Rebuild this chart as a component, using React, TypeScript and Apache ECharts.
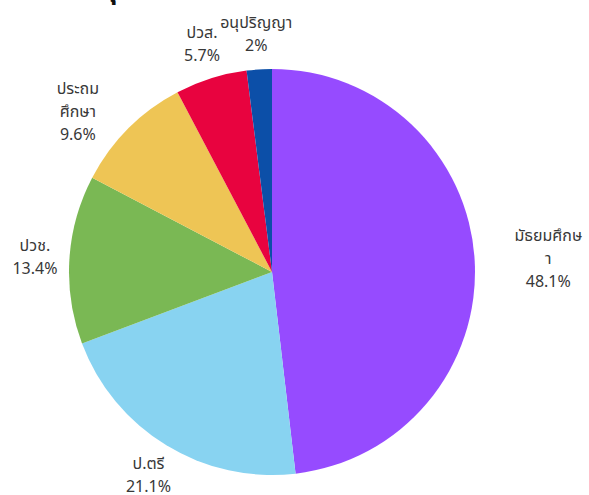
import React, { useEffect, useRef } from "react";
import * as echarts from "echarts";

const categories = ["มัธยมศึกษา", "ป.ตรี", "ปวช.", "ประถมศึกษา", "ปวส.", "อนุปริญญา"];
const values = [48.1, 21.1, 13.4, 9.6, 5.7, 2];
const colors = ["#964BFF", "#88D3F1", "#7AB854", "#EEC555", "#E8033F", "#0C4FA8"];
// where a long label wraps (character count of its first line)
const wrapAt: Record<string, number> = { "มัธยมศึกษา": 9, "ประถมศึกษา": 5 };
const titleText = "ระดับการศึกษาของกลุ่ม";

const CX = 272;
const CY = 272;
const R = 203;
const GAP = 12;
const FONT_SIZE = 16;
const LINE_H = 23;
const FONT_FAMILY = "'Noto Sans Thai', 'Noto Sans', sans-serif";

export default function App() {
  const ref = useRef<HTMLDivElement>(null);
  useEffect(() => {
    const chart = echarts.init(ref.current!, null, { renderer: "svg" });
    const total = values.reduce((a, b) => a + b, 0);
    const mids: number[] = [];
    let acc = 0;
    values.forEach((v) => {
      mids.push(((acc + v / 2) / total) * Math.PI * 2);
      acc += v;
    });
    const ctx = document.createElement("canvas").getContext("2d")!;
    ctx.font = `${FONT_SIZE}px ${FONT_FAMILY}`;

    chart.setOption({
      animation: false,
      color: colors,
      graphic: [
        {
          type: "text",
          x: -137,
          y: -25,
          style: { text: titleText, font: `bold 28px ${FONT_FAMILY}`, fill: "#111" },
        },
      ],
      series: [
        {
          type: "pie",
          center: [CX, CY],
          radius: R,
          startAngle: 90,
          clockwise: true,
          avoidLabelOverlap: false,
          label: {
            show: true,
            position: "outside",
            formatter: (p: any) => {
              const name: string = p.name;
              const k = wrapAt[name];
              const shown = k ? name.slice(0, k) + "\n" + name.slice(k) : name;
              return `${shown}\n${p.value}%`;
            },
            fontSize: FONT_SIZE,
            lineHeight: LINE_H,
            color: "#383838",
            fontFamily: FONT_FAMILY,
          },
          labelLine: { show: false },
          labelLayout: (p: any) => {
            const i = p.dataIndex;
            const name = categories[i];
            let w = p.labelRect.width;
            let h = p.labelRect.height;
            if (wrapAt[name]) {
              w = ctx.measureText(`${name} ${values[i]}%`).width;
              h = LINE_H;
            }
            const a = mids[i];
            const ux = Math.sin(a);
            const uy = -Math.cos(a);
            return {
              x: CX + ux * (R + GAP) + (ux * w) / 2,
              y: CY + uy * (R + GAP) + (uy * h) / 2,
              align: "center",
              verticalAlign: "middle",
            };
          },
          emphasis: { disabled: true },
          data: categories.map((name, i) => ({ name, value: values[i] })),
        },
      ],
    });
    return () => chart.dispose();
  }, []);
  return <div ref={ref} style={{ position: "absolute", left: 0, top: 0, width: 589, height: 495 }} />;
}
